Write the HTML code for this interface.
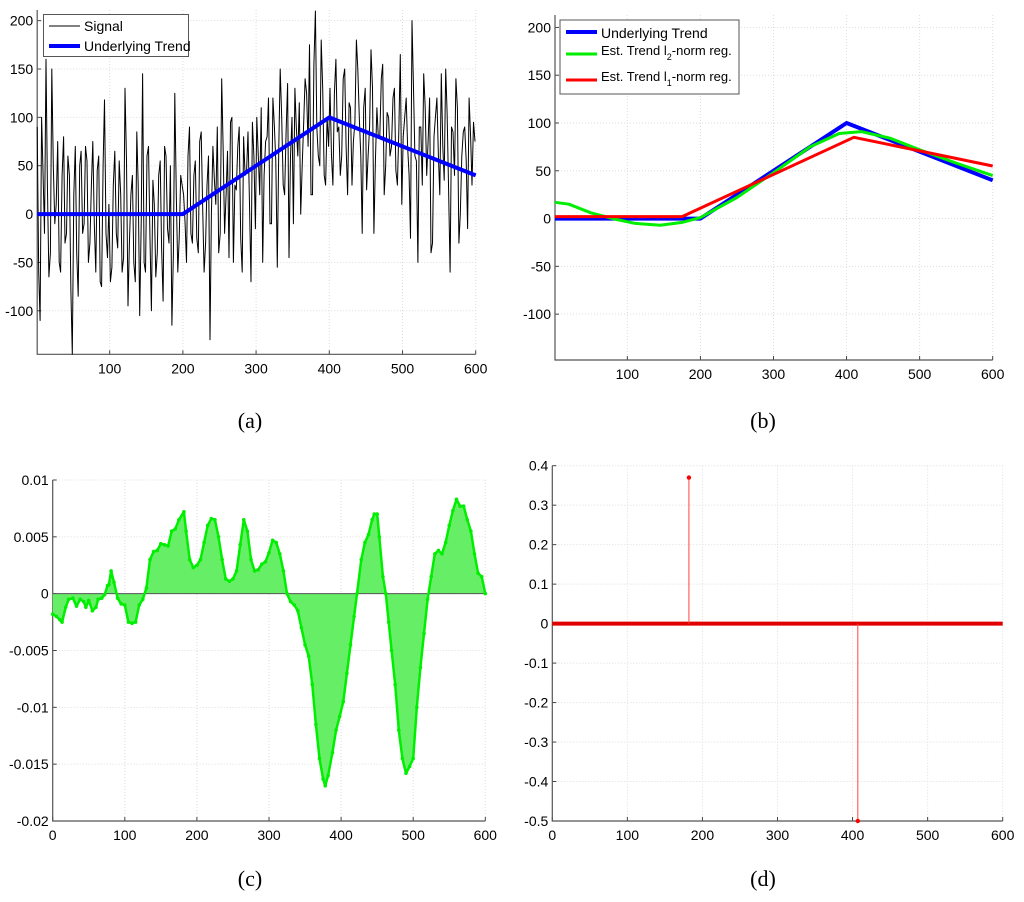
<!DOCTYPE html>
<html><head><meta charset="utf-8">
<style>
body{margin:0;background:#fff;}
svg text{font-family:"Liberation Sans",sans-serif;font-size:14px;fill:#000;}
.cap{font-family:"Liberation Serif",serif;font-size:22px;}
</style></head>
<body>
<svg id="fig" width="1024" height="897" viewBox="0 0 1024 897" xmlns="http://www.w3.org/2000/svg"></svg>
<script>
// ---------- data ----------
const signalValues = [90,-110,40,160,-65,150,-10,75,-60,80,-20,40,-145,70,-85,65,-10,55,-30,75,-60,60,-75,118,-45,-70,30,-20,55,-60,130,-95,20,-50,85,-105,145,-60,70,-100,10,-40,55,-90,60,-30,-115,125,-60,40,
20,-50,90,-30,55,-40,85,-60,30,-130,70,10,-40,140,-20,65,95,-50,25,90,-60,40,85,-70,60,100,20,-50,75,120,-10,90,-55,150,30,85,-45,100,130,60,0,95,125,175,20,210,60,180,40,100,
130,30,160,90,60,150,20,110,75,180,100,-20,130,60,170,-20,110,80,155,50,100,70,130,30,165,80,120,40,200,60,-50,90,145,40,120,-30,100,60,145,35,105,-60,85,140,-30,60,90,-15,80,95];
const signalValuesB = [-60,100,-20,30,-40,50,10,-50,40,-30,60,-80,20,-40,50,-20,70,-50,30,-10,45,-70,50,-20,10,-55,65,-35,20,-45,55,-30,40,-70,30,-10,-50,60,-20,35,-65,40,-35,70,-15,50,-40,20,-25,30,
-10,60,-20,40,-25,75,10,-30,60,0,35,90,-20,70,20,-45,100,30,70,-25,80,45,10,95,-15,60,110,40,80,-10,120,55,70,100,20,135,60,-10,90,115,50,140,70,20,155,90,50,130,30,70,
60,125,85,40,140,70,115,30,95,150,60,110,25,90,130,55,80,140,20,105,60,120,45,85,10,100,70,-25,130,55,90,30,110,75,-40,80,120,20,70,150,25,90,40,110,0,85,55,120,30,75];
const signalStart = 1, signalStep = 4;
const trendX = [1,200,400,600];
const trendY = [0,0,100,40];
const l2X = [1,20,50,80,110,145,175,200,250,300,350,390,420,460,500,550,600];
const l2Y = [17,15,6,0,-5,-7,-4,1,22,48,75,89,91,84,72,58,45];
const l1X = [1,175,410,600];
const l1Y = [2,2,85,55];
const resX = [0,5,10,13,18,22,28,33,38,43,46,50,55,60,63,68,72,76,78,81,85,90,95,100,105,110,115,120,125,130,135,140,145,150,155,160,165,170,175,182,185,190,195,200,205,210,215,220,225,230,235,240,245,250,255,260,265,270,275,280,285,290,295,300,305,310,315,320,325,330,335,340,345,350,355,360,365,370,375,378,382,388,393,398,403,408,413,418,422,428,433,438,443,446,450,453,458,462,466,470,475,480,485,490,495,500,505,510,515,520,525,530,535,540,545,550,555,560,565,570,575,580,585,590,595,600];
const resY = [-1.8,-2.0,-2.3,-2.5,-1.2,-0.5,-0.4,-1.1,-0.5,-0.7,-1.2,-0.6,-1.5,-1.2,-0.5,-0.4,-0.1,0.7,0.8,2.0,1.0,-0.4,-0.9,-1.0,-2.5,-2.6,-2.5,-1.0,-0.5,0.5,3.0,3.7,3.8,4.4,4.3,4.2,5.5,5.7,6.5,7.2,5.5,3.0,2.3,2.5,3.0,4.5,6.0,6.6,6.5,5.0,3.0,1.3,1.1,1.3,2.0,4.3,6.5,5.5,3.0,2.0,2.1,2.6,2.8,3.6,4.7,4.5,3.5,2.0,0,-0.7,-1.0,-1.5,-3.0,-4.5,-5.5,-8.0,-11.5,-14.5,-16.3,-16.9,-16.0,-14.0,-12.0,-10.8,-9.5,-7.0,-4.5,-2.0,0,3.0,4.5,5.2,6.5,7.0,7.0,5.0,1.5,0,-2.5,-5.0,-8.0,-12.0,-14.5,-15.8,-15.2,-14.5,-10.0,-6.5,-3.5,-0.5,1.5,3.5,3.8,3.5,4.5,6.0,7.3,8.3,7.7,7.7,6.5,5.5,3.5,1.8,1.5,0]; // units of 0.001
const spikeX = [182,407];
const spikeY = [0.37,-0.5];
const ticksA_X = [100,200,300,400,500,600];
const ticksA_Y = [-100,-50,0,50,100,150,200];
const ticksC_X = [0,100,200,300,400,500,600];
const ticksC_Y = [-0.02,-0.015,-0.01,-0.005,0,0.005,0.01];
const ticksC_YL = ["-0.02","-0.015","-0.01","-0.005","0","0.005","0.01"];
const ticksD_Y = [-0.5,-0.4,-0.3,-0.2,-0.1,0,0.1,0.2,0.3,0.4];

const NS="http://www.w3.org/2000/svg";
const fig=document.getElementById('fig');
function mk(tag,attrs,parent){const e=document.createElementNS(NS,tag);for(const k in attrs)e.setAttribute(k,attrs[k]);(parent||fig).appendChild(e);return e;}

function panel(name,L,R,T,B,xmin,xmax,ymin,ymax,xt,yt,ytl){
  const g=mk('g',{});
  
  
  const sx=v=>L+(v-xmin)/(xmax-xmin)*(R-L);
  const sy=v=>B-(v-ymin)/(ymax-ymin)*(B-T);
  xt.forEach(v=>{const x=sx(v);
    const gl=mk('line',{x1:x,x2:x,y1:T,y2:B,stroke:'#ddd','stroke-width':1,'stroke-dasharray':'1,2'},g);
    
    
    mk('line',{x1:x,x2:x,y1:B,y2:B-4,stroke:'#444'},g);
    const t=mk('text',{x:x,y:B+19,'text-anchor':'middle'},g);t.textContent=v;
    
    
  });
  yt.forEach((v,i)=>{const y=sy(v);
    const gl=mk('line',{x1:L,x2:R,y1:y,y2:y,stroke:'#ddd','stroke-width':1,'stroke-dasharray':'1,2'},g);
    
    
    mk('line',{x1:L,x2:L+4,y1:y,y2:y,stroke:'#444'},g);
    const t=mk('text',{x:L-4,y:y+5,'text-anchor':'end'},g);t.textContent=ytl?ytl[i]:v;
    
    
  });
  const ax=mk('path',{d:`M${L},${T}V${B}H${R}`,fill:'none',stroke:'#555','stroke-width':1.2},g);
  
  
  return {g,sx,sy};
}
function poly(p,xs,ys,col,w,name){
  const d=xs.map((x,i)=>(i?'L':'M')+p.sx(x).toFixed(1)+','+p.sy(ys[i]).toFixed(1)).join('');
  const e=mk('path',{d:d,fill:'none',stroke:col,'stroke-width':w,'stroke-linejoin':'round'},p.g);
  
  
  return e;
}
function caption(x,y,txt,name){const t=mk('text',{x:x,y:y,'text-anchor':'middle',class:'cap'});t.textContent=txt;
  
  }

// ---------- panel a ----------
const pa=panel('panel-a',37.2,475.7,10,354.3,1,600,-145,211,ticksA_X,ticksA_Y);
const sigX=[], sigY=[];
signalValues.forEach((v,i)=>{
  sigX.push(signalStart+i*signalStep); sigY.push(v);
  if(i<signalValuesB.length){sigX.push(signalStart+2+i*signalStep); sigY.push(signalValuesB[i]);}
});
poly(pa,sigX,sigY,'#000',1,'signal-line');
poly(pa,trendX,trendY,'#0000ff',4,'underlying-trend-line');
(function(){const g=mk('g',{},pa.g);
  
  
  mk('rect',{x:43.5,y:14.5,width:145,height:42,fill:'#fff',stroke:'#555'},g);
  mk('line',{x1:49,x2:80,y1:26,y2:26,stroke:'#000','stroke-width':1},g);
  const t1=mk('text',{x:84,y:31},g);t1.textContent='Signal';
  
  
  mk('line',{x1:49,x2:80,y1:46,y2:46,stroke:'#0000ff','stroke-width':4},g);
  const t2=mk('text',{x:84,y:51},g);t2.textContent='Underlying Trend';
  
  
})();
caption(250,428,'(a)','caption-a');

// ---------- panel b ----------
const pb=panel('panel-b',555,992.7,15,360,1,600,-148,213,ticksA_X,ticksA_Y);
poly(pb,trendX,trendY,'#0000ff',4,'underlying-trend-line-b');
poly(pb,l2X,l2Y,'#00ee00',3,'l2-trend-line');
poly(pb,l1X,l1Y,'#ff0000',3,'l1-trend-line');
(function(){const g=mk('g',{},pb.g);
  
  
  mk('rect',{x:560,y:20,width:179,height:74,fill:'#fff',stroke:'#555'},g);
  mk('line',{x1:566,x2:597,y1:32,y2:32,stroke:'#0000ff','stroke-width':4},g);
  mk('line',{x1:566,x2:597,y1:54,y2:54,stroke:'#00ee00','stroke-width':3},g);
  mk('line',{x1:566,x2:597,y1:80,y2:80,stroke:'#ff0000','stroke-width':3},g);
  const t1=mk('text',{x:601,y:38},g);t1.textContent='Underlying Trend';
  
  
  const t2=mk('text',{x:601,y:55,style:'font-size:13px'},g);t2.innerHTML='Est. Trend l<tspan style="font-size:9px" dy="5">2</tspan><tspan dy="-5">-norm reg.</tspan>';
  
  
  const t3=mk('text',{x:601,y:81,style:'font-size:13px'},g);t3.innerHTML='Est. Trend l<tspan style="font-size:9px" dy="5">1</tspan><tspan dy="-5">-norm reg.</tspan>';
  
  
})();
caption(763,428,'(b)','caption-b');

// ---------- panel c ----------
const pc=panel('panel-c',52.7,485.3,480,821,0,600,-0.02,0.01,ticksC_X,ticksC_Y,ticksC_YL);
(function(){
  const ys=resY.map(v=>v/1000);
  let d='M'+pc.sx(resX[0])+','+pc.sy(0);
  resX.forEach((x,i)=>{d+='L'+pc.sx(x).toFixed(1)+','+pc.sy(ys[i]).toFixed(1);});
  d+='L'+pc.sx(resX[resX.length-1])+','+pc.sy(0)+'Z';
  const a=mk('path',{d:d,fill:'#66ee66',stroke:'none'},pc.g);
  
  
  const z=mk('line',{x1:pc.sx(0),x2:pc.sx(600),y1:pc.sy(0),y2:pc.sy(0),stroke:'#555','stroke-width':1},pc.g);
  
  
  poly(pc,resX,ys,'#00ee00',2.5,'residual-markers');
  resX.forEach((x,i)=>{
    const c=mk('circle',{cx:pc.sx(x),cy:pc.sy(ys[i]),r:1.8,fill:'#00ee00'},pc.g);
    
    
  });
})();
caption(250,886,'(c)','caption-c');

// ---------- panel d ----------
const pd=panel('panel-d',552.3,1002.7,465.7,821,0,600,-0.5,0.4,ticksC_X,ticksD_Y);
(function(){
  const z=mk('line',{x1:pd.sx(0),x2:pd.sx(600),y1:pd.sy(0),y2:pd.sy(0),stroke:'#e00000','stroke-width':4},pd.g);
  
  
  spikeX.forEach((x,i)=>{
    const l=mk('line',{x1:pd.sx(x),x2:pd.sx(x),y1:pd.sy(0),y2:pd.sy(spikeY[i]),stroke:'#ff4444','stroke-width':1},pd.g);
    
    
    const c=mk('circle',{cx:pd.sx(x),cy:pd.sy(spikeY[i]),r:2.2,fill:'#ff0000'},pd.g);
    
    
  });
})();
caption(763,886,'(d)','caption-d');
</script>
</body></html>
